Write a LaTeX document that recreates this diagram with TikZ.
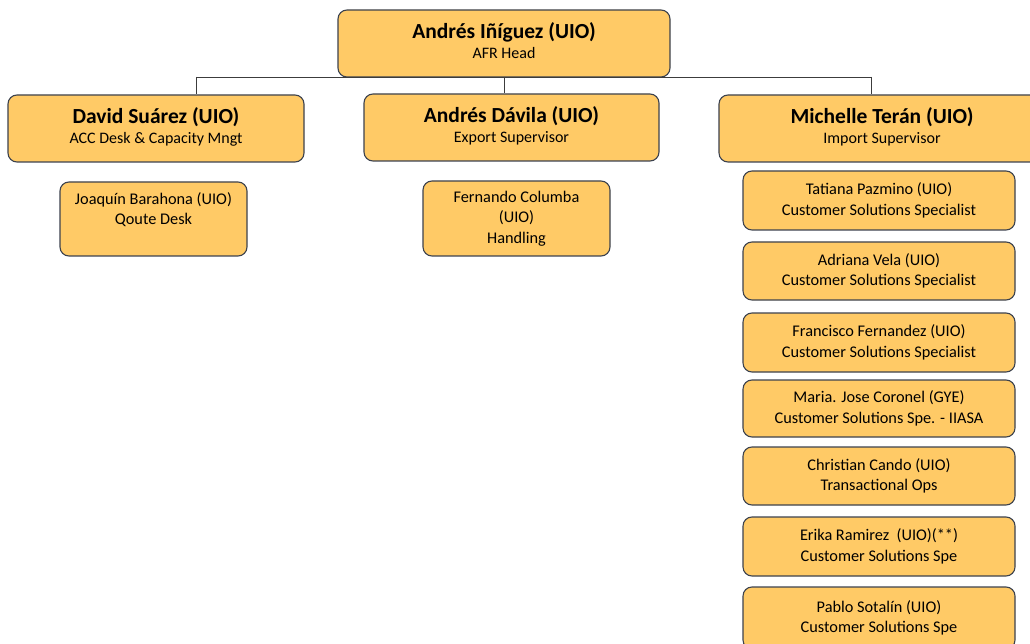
\documentclass[tikz,border=0pt]{standalone}
\usepackage{fontspec}
\setmainfont{Carlito}
\definecolor{boxfill}{RGB}{255,202,102}
\definecolor{boxline}{RGB}{60,66,78}
\definecolor{linkline}{RGB}{60,60,60}
\begin{document}
\begin{tikzpicture}[x=1pt,y=-1pt,
  box/.style={draw=boxline, fill=boxfill, rounded corners=9pt, line width=1.1pt,
              inner sep=0pt, align=center},
  head/.style={box, font=\fontsize{16}{19.5}\selectfont, inner ysep=0pt,
               text depth=6pt},
  staff/.style={box, font=\fontsize{16.3}{20.5}\selectfont},
  link/.style={draw=linkline, line width=0.9pt}]
\useasboundingbox (0,0) rectangle (1030,644);
\fill[white] (0,0) rectangle (1030,644);

% managers
\node[head, minimum width=332pt, minimum height=67pt] (top) at (504,43.5)
  {{\fontsize{21.5}{22}\selectfont\bfseries Andrés Iñíguez (UIO)}\\AFR Head};
\node[head, minimum width=296pt, minimum height=67pt] (david) at (156,128.5)
  {{\fontsize{21.5}{22}\selectfont\bfseries David Suárez (UIO)}\\ACC Desk \& Capacity Mngt};
\node[head, minimum width=295pt, minimum height=67pt] (davila) at (511.5,127.5)
  {{\fontsize{21.5}{22}\selectfont\bfseries Andrés Dávila (UIO)}\\Export Supervisor};
\node[head, minimum width=326pt, minimum height=67pt] (michelle) at (882,128.5)
  {{\fontsize{21.5}{22}\selectfont\bfseries Michelle Terán (UIO)}\\Import Supervisor};

% reporting lines
\coordinate (busL) at (196,77);
\coordinate (busR) at (871,77);
\draw[link] (busL) -- (busR);
\draw[link] (busL) -- (busL |- david.north);
\draw[link] (busR) -- (busR |- michelle.north);
\draw[link] (top.south) -- (top.south |- davila.north);

% staff under David and Andrés
\node[staff, minimum width=187pt, minimum height=74pt] (joaquin) at (153.5,219)
  {Joaquín Barahona (UIO)\\Qoute Desk\\\mbox{}};
\node[staff, minimum width=187pt, minimum height=75pt] (fernando) at (516.5,218.5)
  {Fernando Columba\\(UIO)\\Handling};

% staff under Michelle
\node[staff, minimum width=272pt, minimum height=59pt] (r1) at (879,200.5)
  {Tatiana Pazmino (UIO)\\Customer Solutions Specialist};
\node[staff, minimum width=272pt, minimum height=58pt] (r2) at (879,271)
  {Adriana Vela (UIO)\\Customer Solutions Specialist};
\node[staff, minimum width=272pt, minimum height=59pt] (r3) at (879,342.5)
  {Francisco Fernandez (UIO)\\Customer Solutions Specialist};
\node[staff, minimum width=272pt, minimum height=57pt] (r4) at (879,408.5)
  {Maria. Jose Coronel (GYE)\\Customer Solutions Spe. - IIASA};
\node[staff, minimum width=272pt, minimum height=58pt] (r5) at (879,476)
  {Christian Cando (UIO)\\Transactional Ops};
\node[staff, minimum width=272pt, minimum height=59pt] (r6) at (879,546.5)
  {Erika Ramirez\ \ (UIO)(**)\\Customer Solutions Spe};
\node[staff, minimum width=272pt, minimum height=62pt] (r7) at (879,618)
  {Pablo Sotalín (UIO)\\Customer Solutions Spe};
\end{tikzpicture}
\end{document}
